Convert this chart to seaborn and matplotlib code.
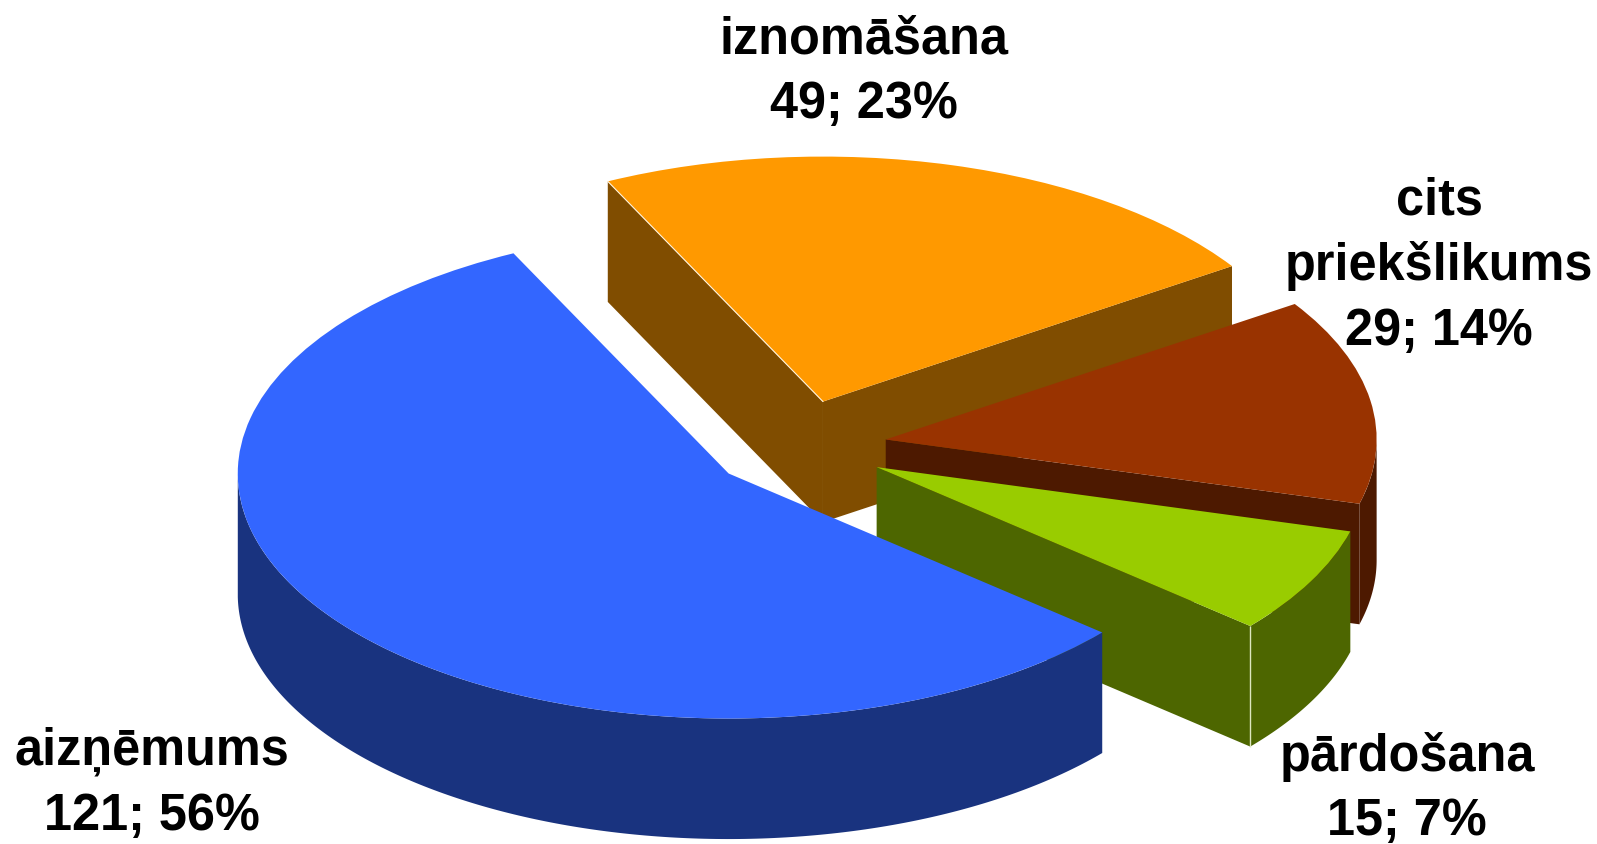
import numpy as np
import seaborn as sns
import matplotlib
matplotlib.use("Agg")
import matplotlib.pyplot as plt

# values in pie order, counter clockwise from the start angle
names = ["aizņēmums", "pārdošana", "cits\npriekšlikums", "iznomāšana"]
counts = [121, 15, 29, 49]
percents = [56, 7, 14, 23]
top_colors = ["#3366FF", "#99CC00", "#993300", "#FF9900"]
side_colors = ["#19337F", "#4D6600", "#4D1900", "#804D00"]
explode = [0.18, 0.18, 0.18, 0.19]

START_ANGLE = 116
DEPTH = 0.492  # in y units, the y axis is squashed
W, H = 1597, 845
CX, CY, RX, RY = 798.5, 447.5, 490.9, 245.0

# label centres in pixels, same order as names
label_pos = [(152, 784), (1407, 789), (1439, 266), (864, 72)]

sns.set_theme(style="white")
plt.rcParams["font.family"] = ["Liberation Sans", "DejaVu Sans"]

fig = plt.figure(figsize=(W / 100, H / 100), dpi=100, facecolor="white")
ax = fig.add_axes([0, 0, 1, 1])

wedges, _ = ax.pie(counts, explode=explode, colors=top_colors, startangle=START_ANGLE,
                   counterclock=True, radius=1, wedgeprops={"linewidth": 0})

# back to front: orange, maroon, green, blue
order = {3: 1, 2: 2, 1: 3, 0: 4}


def drop(x, y):
    # closes a top outline with the same outline lowered by the depth
    xs = np.concatenate([x, x[::-1]])
    ys = np.concatenate([y, y[::-1] - DEPTH])
    return xs, ys


for i, w in enumerate(wedges):
    z = order[i] * 10
    c = side_colors[i]
    cx, cy = w.center
    a1, a2 = w.theta1, w.theta2

    # flat cut faces, only the ones that look at the viewer
    for a, normal in ((a1, a1 - 90), (a2, a2 + 90)):
        if np.sin(np.radians(normal)) < 0:
            x = np.array([cx, cx + np.cos(np.radians(a))])
            y = np.array([cy, cy + np.sin(np.radians(a))])
            ax.fill(*drop(x, y), color=c, lw=0, zorder=z)

    # curved rim, front half only
    t = np.radians(np.linspace(a1, a2, 300))
    t = t[np.sin(t) < 0]
    if len(t) > 1:
        ax.fill(*drop(cx + np.cos(t), cy + np.sin(t)), color=c, lw=0, zorder=z + 1)

    w.set_zorder(z + 2)

# thin light edges seen in the original
green = wedges[1]
ex = green.center[0] + np.cos(np.radians(green.theta1))
ey = green.center[1] + np.sin(np.radians(green.theta1))
ax.plot([ex, ex], [ey, ey - DEPTH], color="#DDE6C0", lw=1, zorder=33, solid_capstyle="butt")

orange = wedges[3]
ox = orange.center[0] + np.cos(np.radians(orange.theta2))
oy = orange.center[1] + np.sin(np.radians(orange.theta2))
ax.plot([orange.center[0], ox], [orange.center[1], oy], color="#FFF3DD", lw=0.8, zorder=13)

ax.set_aspect("auto")
ax.set_xlim(-CX / RX, (W - CX) / RX)
ax.set_ylim(-(H - CY) / RY, CY / RY)
ax.axis("off")

for name, n, p, (px, py) in zip(names, counts, percents, label_pos):
    fig.text(px / W, 1 - py / H, f"{name}\n{n}; {p}%", ha="center", va="center",
             fontsize=36.4, fontweight="bold", color="black", linespacing=1.41, zorder=60)

fig.savefig("out.png", dpi=100, facecolor="white")
